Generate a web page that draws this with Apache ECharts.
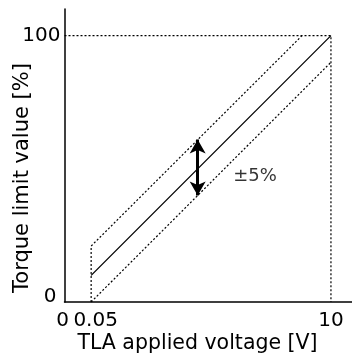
<!DOCTYPE html>
<html>
<head>
<meta charset="utf-8">
<script src="https://cdn.jsdelivr.net/npm/echarts@6/dist/echarts.min.js"></script>
<style>
html,body{margin:0;padding:0;background:#fff;}
#c{width:352px;height:360px;}
</style>
</head>
<body>
<div id="c"></div>
<script>
// ---- data (voltage [V], torque limit [%]) ----
const xTickValues = [0, 0.05, 10];
const xTickLabels = ['0', '0.05', '10'];
const yTickValues = [0, 100];
const yTickLabels = ['0', '100'];
const nominalLine = [[0.05, 10], [10, 100]];
const upperLimit = [[0.05, 0], [0.05, 21], [8.8, 100]];
const lowerLimit = [[0.05, 0], [10, 90]];
const guideLines = [[0, 100], [10, 100], [10, 0]];
const toleranceArrow = [[4.47, 40], [4.47, 61]];
const toleranceLabel = '±5%';
const toleranceLabelAt = [6.85, 47];
const xTitle = 'TLA applied voltage [V]';
const yTitle = 'Torque limit value [%]';

// schematic (broken) x axis: 0..0.05 V is drawn as one unit, 0.05..10 V as nine
function xPos(v) { return v <= 0.05 ? v / 0.05 : 1 + (v - 0.05) * 9 / 9.95; }
function mapPts(arr) { return arr.map(p => [xPos(p[0]), p[1]]); }

const FONT = 'DejaVu Sans';
const chart = echarts.init(document.getElementById('c'), null, {renderer: 'canvas'});
const dotted = {color: '#000', width: 1.2, type: [2, 2]};

chart.setOption({
  animation: false,
  backgroundColor: '#fff',
  grid: {left: 64.5, right: 0, top: 9, bottom: 58, containLabel: false},
  xAxis: {
    type: 'value', min: 0, max: 10.79,
    axisLine: {show: true, lineStyle: {color: '#000', width: 1.5}},
    axisTick: {show: false},
    splitLine: {show: false},
    axisLabel: {
      customValues: xTickValues.map(xPos),
      color: '#000', fontFamily: FONT, fontSize: 20, margin: 9,
      formatter: function (val) {
        const i = xTickValues.map(xPos).findIndex(p => Math.abs(p - val) < 1e-6);
        const s = i >= 0 ? xTickLabels[i] : '';
        if (s === '0') return '{a|' + s + '}';
        if (s === '0.05') return '{b|' + s + '}';
        return s;
      },
      rich: {
        a: {fontFamily: FONT, fontSize: 20, color: '#000', padding: [0, 4, 0, 0]},
        b: {fontFamily: FONT, fontSize: 20, color: '#000', padding: [0, 0, 0, 9]}
      }
    }
  },
  yAxis: {
    type: 'value', min: 0, max: 110,
    axisLine: {show: true, lineStyle: {color: '#000', width: 1.5}},
    axisTick: {show: false},
    splitLine: {show: false},
    axisLabel: {
      customValues: yTickValues,
      color: '#000', fontFamily: FONT, fontSize: 20, margin: 4,
      formatter: function (val) {
        const i = yTickValues.indexOf(val);
        const s = i >= 0 ? yTickLabels[i] : '';
        if (val === 0) return '{z|' + s + '}';
        return s;
      },
      rich: {
        z: {fontFamily: FONT, fontSize: 20, color: '#000', padding: [0, 4, 10, 0]}
      }
    }
  },
  graphic: [
    {type: 'text', position: [197.5, 343.5], style: {text: xTitle, fontFamily: FONT, fontSize: 20.5, fill: '#000', textAlign: 'center', textVerticalAlign: 'middle'}},
    {type: 'text', rotation: Math.PI / 2, position: [23, 178], style: {text: yTitle, fontFamily: FONT, fontSize: 21, fill: '#000', textAlign: 'center', textVerticalAlign: 'middle'}}
  ],
  series: [
    {type: 'line', data: mapPts(guideLines), symbol: 'none', lineStyle: dotted, silent: true},
    {type: 'line', data: mapPts(upperLimit), symbol: 'none', lineStyle: dotted, silent: true},
    {type: 'line', data: mapPts(lowerLimit), symbol: 'none', lineStyle: dotted, silent: true},
    {type: 'line', data: mapPts(nominalLine), symbol: 'none', lineStyle: {color: '#000', width: 1.3}, silent: true,
      markLine: {
        silent: true, symbol: ['arrow', 'arrow'], symbolSize: [12, 14],
        lineStyle: {color: '#000', width: 3, type: 'solid'},
        label: {show: false},
        data: [[{coord: mapPts(toleranceArrow)[0]}, {coord: mapPts(toleranceArrow)[1]}]]
      }
    },
    {type: 'scatter', data: [[xPos(toleranceLabelAt[0]), toleranceLabelAt[1]]], symbolSize: 0, silent: true,
      itemStyle: {color: '#000'},
      label: {show: true, position: 'inside', formatter: toleranceLabel, color: '#000', fontFamily: FONT, fontSize: 18,
        textBorderWidth: 0, textBorderColor: 'transparent'}}
  ]
});
</script>
</body>
</html>
